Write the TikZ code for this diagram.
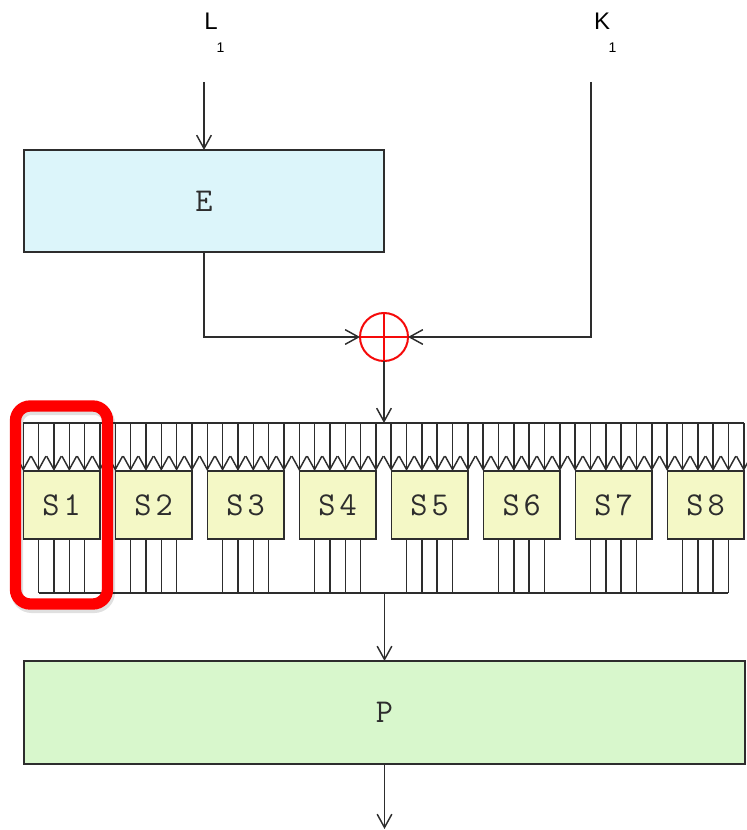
\documentclass[tikz,border=0pt]{standalone}
\usepackage{fontspec}
\newfontfamily\labfont{Liberation Sans}
\usetikzlibrary{arrows.meta,calc}
\definecolor{efill}{RGB}{220,245,250}
\definecolor{sfill}{RGB}{244,248,198}
\definecolor{pfill}{RGB}{216,247,204}
\definecolor{ln}{RGB}{45,45,45}
\definecolor{xred}{RGB}{245,10,10}
\begin{document}
\begin{tikzpicture}[x=0.75pt,y=-0.75pt,
  wire/.style={draw=ln, line width=1.1pt},
  arr/.style={-{Straight Barb[length=10pt,width=11pt,line width=1.1pt]}},
  bigbox/.style={draw=ln, line width=1.1pt, inner sep=0pt, outer sep=0pt, text=ln,
    font=\ttfamily\fontsize{25pt}{25pt}\selectfont},
  sbox/.style={draw=ln, line width=1.1pt, fill=sfill, inner sep=0pt, outer sep=0pt, text=ln,
    minimum width=76.7*0.75pt, minimum height=68*0.75pt,
    font=\ttfamily\fontsize{25pt}{25pt}\selectfont},
  lab/.style={inner sep=0pt, font=\labfont\fontsize{18pt}{18pt}\selectfont},
  sublab/.style={inner sep=0pt, font=\labfont\fontsize{10.5pt}{10.5pt}\selectfont}]
\useasboundingbox (0,0) rectangle (746,830);

% labels
\node[lab] (L) at (211,21) {L};
\node[sublab] (L1) at (220.5,48) {1};
\node[lab] (K) at (602,21) {K};
\node[sublab] (K1) at (612.5,48) {1};

% E box
\node[bigbox, fill=efill, minimum width=360*0.75pt, minimum height=102*0.75pt] (E) at (204,201) {E};

% XOR
\node[circle, draw=xred, line width=1.5pt, minimum size=48*0.75pt, inner sep=0pt, outer sep=0pt] (X) at (384,337) {};
\draw[xred, line width=1.5pt] (X.north) -- (X.south) (X.west) -- (X.east);

\coordinate (Lin) at (204,82);
\coordinate (Kin) at (591,82);
\draw[wire,arr] (Lin) -- (E.north);
\draw[wire,arr] (E.south) |- (X.west);
\draw[wire,arr] (Kin) |- (X.east);

% S boxes
\foreach \k in {1,...,8}{
  \node[sbox] (S\k) at ({61.65+92*(\k-1)},505) {S\kern3pt\k};
}

% input bus
\coordinate (busin) at (384,423);
\coordinate (b0) at (23.3,423);
\coordinate (b47) at (744.3,423);
\draw[wire,arr] (X.south) -- (busin);
\draw[wire] (b0) -- (b47);
\foreach \k in {1,...,8}{
  \foreach \j in {0,...,5}{
    \pgfmathsetmacro{\xx}{23.3+15.33*(6*(\k-1)+\j)}
    \coordinate (t\k\j) at (\xx,423);
    \draw[wire,arr] (t\k\j) -- (t\k\j |- S\k.north);
  }
  \foreach \j in {1,...,4}{
    \pgfmathsetmacro{\xx}{23.3+15.33*(6*(\k-1)+\j)}
    \coordinate (o\k\j) at (\xx,593);
    \draw[wire] (o\k\j |- S\k.south) -- (o\k\j);
  }
}
% output bus
\draw[wire] (o11) -- (o84);

% P box
\node[bigbox, fill=pfill, minimum width=721*0.75pt, minimum height=103*0.75pt] (P) at (384.5,712.5) {P};
\coordinate (busout) at (384.5,593);
\coordinate (pout) at (384.5,829);
\draw[wire,arr] (busout) -- (P.north);
\draw[wire,arr] (P.south) -- (pout);

% highlight
\draw[black, opacity=0.12, line width=9pt, rounded corners=11pt] (17,409) rectangle (109,607);
\draw[red, line width=8.5pt, rounded corners=11pt] (15.5,406) rectangle (107.5,604);
\end{tikzpicture}
\end{document}
